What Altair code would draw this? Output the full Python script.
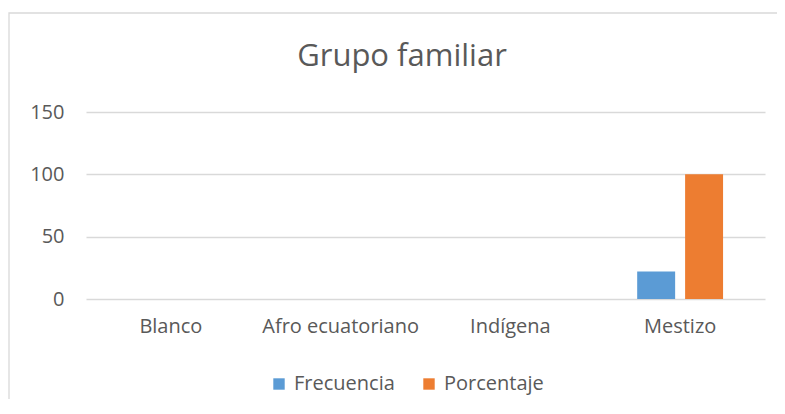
import altair as alt
import pandas as pd

categories = ["Blanco", "Afro ecuatoriano", "Indígena", "Mestizo"]
frecuencia = [0, 0, 0, 22]
porcentaje = [0, 0, 0, 100]
series = ["Frecuencia", "Porcentaje"]
colors = ["#5B9BD5", "#ED7D31"]
y_ticks = [0, 50, 100, 150]
title_text = "Grupo familiar"

rows = []
for c, f, p in zip(categories, frecuencia, porcentaje):
    rows.append({"cat": c, "serie": series[0], "valor": f})
    rows.append({"cat": c, "serie": series[1], "valor": p})
df = pd.DataFrame(rows)

FONT = "Open Sans"
GREY = "#595959"
FS = 20

bars = alt.Chart(df).mark_bar().encode(
    x=alt.X("cat:N", sort=categories, title=None,
            scale=alt.Scale(paddingInner=0, paddingOuter=0),
            axis=alt.Axis(labelAngle=0, domain=False, ticks=False, labelPadding=17,
                          labelFontSize=FS, labelColor=GREY, labelFont=FONT)),
    xOffset=alt.XOffset("serie:N", sort=series,
                        scale=alt.Scale(paddingInner=0.208, paddingOuter=0.875)),
    y=alt.Y("valor:Q", title=None,
            scale=alt.Scale(domain=[0, 150]),
            axis=alt.Axis(values=y_ticks, domain=False, ticks=False, labelPadding=22,
                          gridColor="#d9d9d9", gridWidth=1.3,
                          labelFontSize=FS, labelColor=GREY, labelFont=FONT)),
    color=alt.Color("serie:N", sort=series, title=None,
                    scale=alt.Scale(domain=series, range=colors),
                    legend=alt.Legend(orient="none", legendX=183, legendY=262,
                                      direction="horizontal", symbolType="square",
                                      symbolSize=130, symbolStrokeWidth=0,
                                      labelFontSize=FS, labelColor=GREY, labelFont=FONT,
                                      columnPadding=24, labelOffset=5)),
)

frame = alt.Chart(pd.DataFrame({"a": [0]})).mark_rect(
    fill=None, stroke="#d9d9d9", strokeWidth=1.3
).encode(
    x=alt.value(-77), x2=alt.value(720), y=alt.value(-99), y2=alt.value(330)
)

title = alt.Chart(pd.DataFrame({"t": [title_text]})).mark_text(
    font=FONT, fontSize=31, color=GREY, align="center", baseline="middle"
).encode(
    text="t:N", x=alt.value(316), y=alt.value(-55)
)

chart = alt.layer(frame, bars, title).properties(
    width=679, height=187,
    padding={"left": 78, "top": 104, "right": 12, "bottom": 100},
    autosize=alt.AutoSizeParams(type="none"),
).configure_view(stroke=None)

chart.save("out.html", embed_options={"renderer": "svg", "actions": False})
